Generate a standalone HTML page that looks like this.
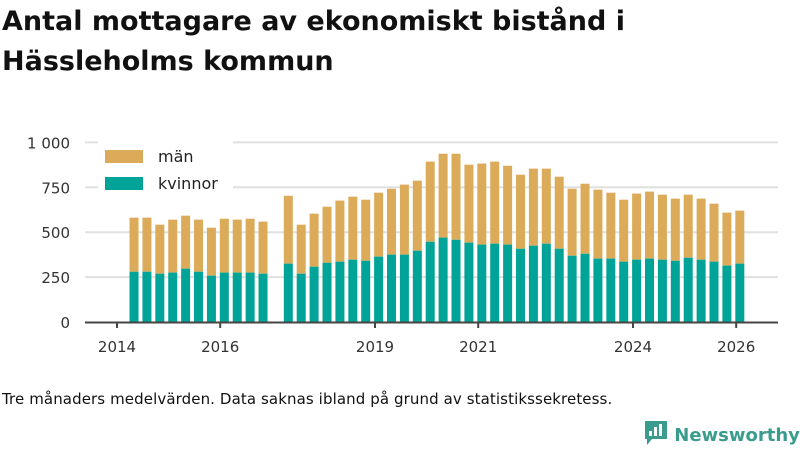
<!DOCTYPE html>
<html><head><meta charset="utf-8"><style>
body{margin:0;background:#fff;font-family:"DejaVu Sans","Liberation Sans",sans-serif;}
#wrap{position:relative;width:800px;height:450px;overflow:hidden;}
h1{position:absolute;left:2px;top:2px;margin:0;font-size:27px;line-height:40px;font-weight:bold;color:#111;width:796px;white-space:nowrap;}
.foot{position:absolute;left:2px;top:390px;font-size:15px;color:#111;white-space:nowrap;letter-spacing:0.1px;}
.logo{position:absolute;left:644px;top:420px;font-size:18px;color:#3a9c8c;font-weight:bold;white-space:nowrap;}
svg text{font-family:"DejaVu Sans","Liberation Sans",sans-serif;}
</style></head><body><div id="wrap">
<h1>Antal mottagare av ekonomiskt bistånd i<br>Hässleholms kommun</h1>
<svg id="chart" width="800" height="450" style="position:absolute;left:0;top:0"></svg>
<div class="foot">Tre månaders medelvärden. Data saknas ibland på grund av statistikssekretess.</div>
<div class="logo"><svg width="24" height="26" style="vertical-align:-5px"><path d="M1 1h22v18H8l-5 6v-6H1z" fill="#3a9c8c"/><rect x="5" y="11" width="3" height="5" fill="#fff"/><rect x="10" y="7" width="3" height="9" fill="#fff"/><rect x="15" y="4" width="3" height="12" fill="#fff"/></svg> Newsworthy</div>
</div>
<script>
const dates=[];
for(let i=0;i<11;i++)dates.push(2014.33+0.25*i);
for(let i=0;i<36;i++)dates.push(2017.32+0.25*i);
const totals=[581,581,542,570,592,570,525,575,570,575,559,703,542,603,642,676,698,681,720,742,765,787,893,937,937,876,882,893,870,820,854,854,809,742,770,737,720,681,715,726,709,687,709,687,659,609,620];
const kvinnor=[280,280,269,275,297,280,258,275,275,275,269,325,269,308,330,336,347,341,364,375,375,397,447,470,458,442,431,436,431,408,425,436,408,369,380,353,353,336,347,353,347,341,358,347,336,314,325];
const yTicks=[0,250,500,750,1000];
const yTickLabels=["0","250","500","750","1 000"];
const xTicks=[2014,2016,2019,2021,2024,2026];
const svg=document.getElementById('chart');const NS='http://www.w3.org/2000/svg';
const X=d=>117+(d-2014)*51.6;const Y=v=>322-v*0.1796;
function el(t,a,p){const e=document.createElementNS(NS,t);for(const k in a)e.setAttribute(k,a[k]);(p||svg).appendChild(e);return e;}
yTicks.forEach((v,i)=>{if(v>0){const g=el('line',{x1:85,x2:778,y1:Y(v),y2:Y(v),stroke:'#e0e0e0','stroke-width':2});

}
const t=el('text',{x:70,y:Y(v)+6,'text-anchor':'end','font-size':15,fill:'#333'});t.textContent=yTickLabels[i];

});
dates.forEach((d,i)=>{const w=9,x=X(d)-w/2;
const m=el('rect',{x:x,y:Y(totals[i]),width:w,height:Y(kvinnor[i])-Y(totals[i]),fill:'#dbab5a'});


const k=el('rect',{x:x,y:Y(kvinnor[i]),width:w,height:Y(0)-Y(kvinnor[i]),fill:'#00a398'});

});
const ax=el('line',{x1:85,x2:778,y1:322.5,y2:322.5,stroke:'#444','stroke-width':2});


xTicks.forEach(y=>{const tk=el('line',{x1:X(y),x2:X(y),y1:322,y2:328,stroke:'#444','stroke-width':2});


const t=el('text',{x:X(y),y:352,'text-anchor':'middle','font-size':15,fill:'#333'});t.textContent=y;

});
const lb=el('rect',{x:98,y:140,width:135,height:56,fill:'#fff'});


[['män','#dbab5a',150],['kvinnor','#00a398',177]].forEach(([n,c,y])=>{
const s=el('rect',{x:105,y:y,width:38,height:13,fill:c});


const t=el('text',{x:158,y:y+12,'font-size':16,fill:'#222'});t.textContent=n;

});
</script></body></html>
